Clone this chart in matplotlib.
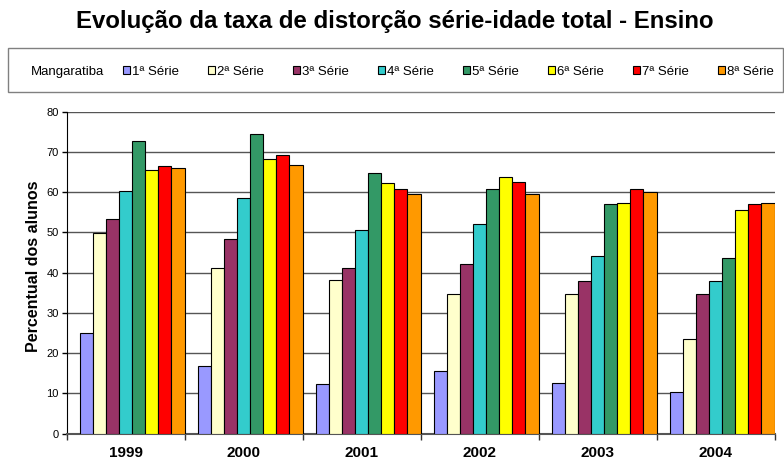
import numpy as np
import matplotlib
matplotlib.use("Agg")
import matplotlib.pyplot as plt
from matplotlib.patches import Rectangle

plt.rcParams['font.family'] = ['Liberation Sans', 'DejaVu Sans']

years = ['1999', '2000', '2001', '2002', '2003', '2004']
series = ['1ª Série', '2ª Série', '3ª Série', '4ª Série',
          '5ª Série', '6ª Série', '7ª Série', '8ª Série']
serie_1 = [25.0, 16.7, 12.4, 15.5, 12.5, 10.3]
serie_2 = [49.8, 41.2, 38.1, 34.8, 34.7, 23.6]
serie_3 = [53.4, 48.3, 41.2, 42.1, 38.0, 34.6]
serie_4 = [60.2, 58.5, 50.7, 52.0, 44.0, 38.0]
serie_5 = [72.6, 74.5, 64.8, 60.7, 57.0, 43.7]
serie_6 = [65.4, 68.3, 62.2, 63.8, 57.4, 55.5]
serie_7 = [66.4, 69.2, 60.8, 62.5, 60.7, 57.1]
serie_8 = [65.9, 66.7, 59.6, 59.5, 60.0, 57.2]
values = [serie_1, serie_2, serie_3, serie_4, serie_5, serie_6, serie_7, serie_8]
colors = ['#9999FF', '#FFFFCC', '#993366', '#33CCCC',
          '#339966', '#FFFF00', '#FF0000', '#FF9900']

fig = plt.figure(figsize=(7.84, 4.66), dpi=100)
ax = fig.add_axes([66.5 / 784, 32.3 / 466, 708 / 784, 322.2 / 466])

x = np.arange(len(years))
w = 1 / 9
bars = []
for k, (vals, col) in enumerate(zip(values, colors)):
    # bars sit right-aligned in each category slot, gap on the left
    b = ax.bar(x - 0.5 + (k + 1.5) * w, vals, width=w, color=col,
               edgecolor='black', linewidth=0.8, zorder=3)
    bars.append(b)

ax.set_xlim(-0.5, len(years) - 0.5)
ax.set_ylim(0, 80)
ax.set_yticks(range(0, 81, 10))
ax.yaxis.grid(True, color='#555555', linewidth=1, zorder=0)
ax.tick_params(axis='y', labelsize=8, length=3.5, width=1, pad=2)

ax.set_xticks(x)
ax.set_xticklabels(years, fontsize=11, fontweight='bold')
ax.set_xticks(np.arange(-0.5, len(years)), minor=True)
ax.tick_params(axis='x', which='major', length=0, pad=9)
ax.tick_params(axis='x', which='minor', length=4, width=1, color='#333333')

for s in ['top', 'right']:
    ax.spines[s].set_visible(False)
ax.spines['left'].set_color('black')
ax.spines['bottom'].set_color('#555555')
ax.spines['bottom'].set_linewidth(1.5)

ax.set_ylabel('Percentual dos alunos', fontsize=11.5, fontweight='bold')
ax.yaxis.set_label_coords(-0.036, 0.519)

fig.text(0.503, 1 - 28 / 466, 'Evolução da taxa de distorção série-idade total - Ensino',
         ha='center', va='baseline', fontsize=17.3, fontweight='bold')

# legend frame
fig.patches.append(Rectangle((8.3 / 784, 1 - 92 / 466), 774.4 / 784, 44.3 / 466,
                             transform=fig.transFigure, fill=False,
                             edgecolor='#808080', linewidth=1))
fig.text(31 / 784, 1 - 72 / 466, 'Mangaratiba', ha='left', va='center', fontsize=9.5)
fig.legend(bars, series, ncol=8, loc='center left',
           bbox_to_anchor=(123 / 784, 1 - 72 / 466), frameon=False,
           fontsize=9.5, handlelength=0.55, handleheight=0.55, handletextpad=0.12,
           columnspacing=2.22, borderpad=0, borderaxespad=0)

fig.savefig('out.png', dpi=100)
